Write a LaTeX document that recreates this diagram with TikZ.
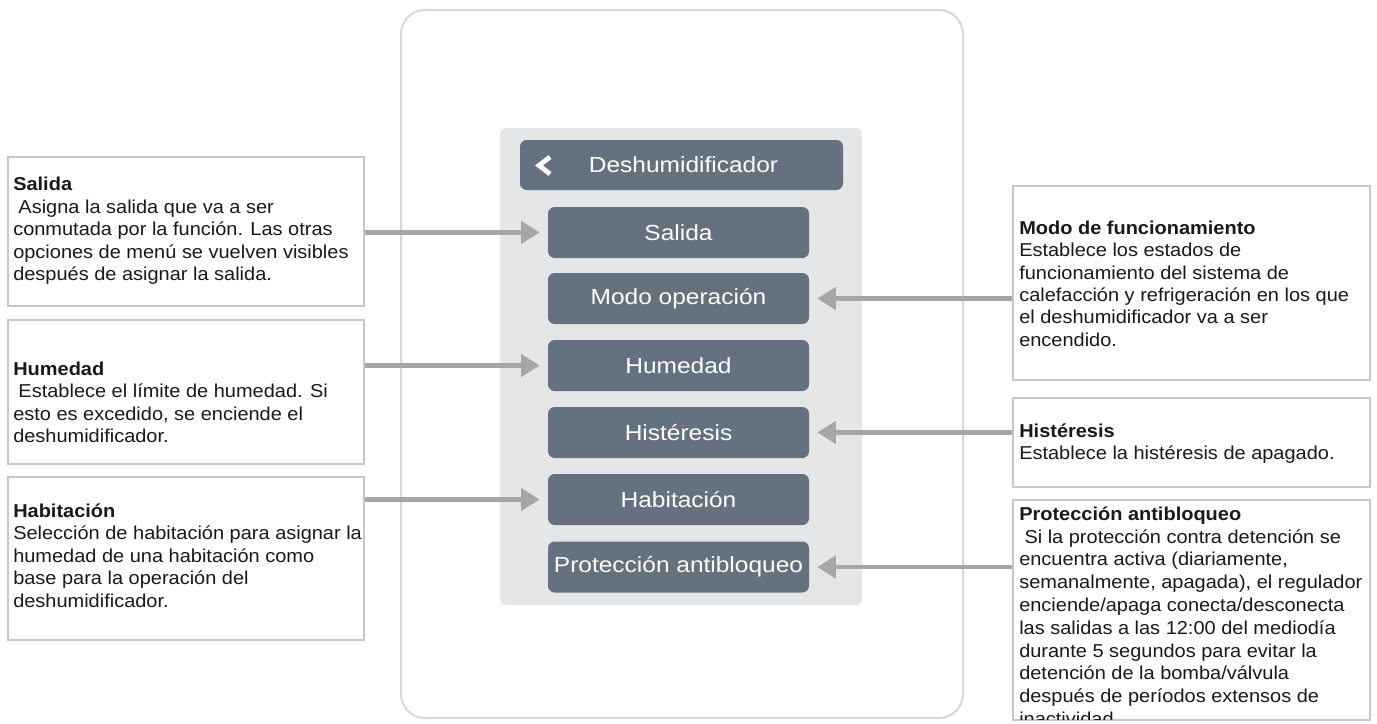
\documentclass[tikz,border=0pt]{standalone}
\usepackage{fontspec}
\setmainfont{Liberation Sans}
\newfontfamily\descfont[FakeStretch=1.07]{Liberation Sans}
\newfontfamily\btnfont[FakeStretch=1.12]{Liberation Sans}
\usetikzlibrary{arrows.meta}
\definecolor{btn}{RGB}{100,114,127}
\definecolor{panel}{RGB}{229,230,232}
\definecolor{arr}{RGB}{166,166,166}
\definecolor{boxline}{RGB}{200,200,200}
\definecolor{frameline}{RGB}{216,216,216}
\definecolor{txt}{RGB}{25,25,25}
\newcommand{\hd}[1]{\rule{0pt}{14pt}\textbf{#1}}
\begin{document}
\begin{tikzpicture}[x=0.75pt,y=-0.75pt,
  descbox/.style={draw=boxline, line width=1.4pt, fill=white, inner sep=0pt, minimum width=267pt},
  desctext/.style={anchor=north west, inner sep=0pt, align=left, text=txt,
    font=\descfont\fontsize{14pt}{16.8pt}\selectfont},
  menubtn/.style={fill=btn, rounded corners=5pt, minimum width=195.75pt, minimum height=38.25pt,
    inner sep=0pt, text=white, font=\btnfont\fontsize{16.4pt}{18pt}\selectfont},
  pointer/.style={draw=arr, line width=3.4pt, -{Triangle[length=14pt,width=16.5pt]}, shorten >=6pt},
]
\useasboundingbox (0,0) rectangle (1377,724);
\fill[white] (0,0) rectangle (1377,724);

% device frame and menu panel
\node[draw=frameline, line width=1.5pt, fill=white, rounded corners=18pt,
  minimum width=421.5pt, minimum height=531pt, inner sep=0pt] (fr) at (682,364) {};
\node[fill=panel, rounded corners=4pt, minimum width=271.5pt, minimum height=357.75pt,
  inner sep=0pt] (pnl) at (681,366.5) {};

% header
\node[menubtn, minimum width=242.25pt, minimum height=37.5pt] (hdr) at (681.5,165) {\hspace*{3pt}Deshumidificador};
\draw[white, line width=3.6pt, line join=miter] (550,157) -- (539,165.5) -- (550,174);

% menu buttons
\node[menubtn] (bsal) at (678.5,232.5) {Salida};
\node[menubtn] (bmod) at (678.5,298.5) {Modo operación};
\node[menubtn] (bhum) at (678.5,365.5) {Humedad};
\node[menubtn] (bhis) at (678.5,432.5) {Histéresis};
\node[menubtn] (bhab) at (678.5,499.5) {Habitación};
\node[menubtn] (bpro) at (678.5,567) {Protección antibloqueo};

% description boxes
\node[descbox, minimum height=111.75pt] (ksal) at (186,231.5) {};
\node[descbox, minimum height=108pt] (khum) at (186,392) {};
\node[descbox, minimum height=122.25pt] (khab) at (186,558.5) {};
\node[descbox, minimum width=267.75pt, minimum height=145.5pt] (kmod) at (1191.5,283) {};
\node[descbox, minimum width=267.75pt, minimum height=66.75pt] (khis) at (1191.5,442.5) {};
\node[descbox, minimum width=267.75pt, minimum height=165pt] (kpro) at (1191.5,610) {};

% texts
\node[desctext] (tsal) at (13,172) {\hd{Salida}\\
\hspace*{0.28em}Asigna la salida que va a ser\\
conmutada por la función. Las otras\\
opciones de menú se vuelven visibles\\
después de asignar la salida.};
\node[desctext] (thum) at (13,356.3) {\hd{Humedad}\\
\hspace*{0.28em}Establece el límite de humedad. Si\\
esto es excedido, se enciende el\\
deshumidificador.};
\node[desctext] (thab) at (13,498.5) {\hd{Habitación}\\
Selección de habitación para asignar la\\
humedad de una habitación como\\
base para la operación del\\
deshumidificador.};
\node[desctext] (tmod) at (1019,215.3) {\hd{Modo de funcionamiento}\\
Establece los estados de\\
funcionamiento del sistema de\\
calefacción y refrigeración en los que\\
el deshumidificador va a ser\\
encendido.};
\node[desctext] (this) at (1019,418.3) {\hd{Histéresis}\\
Establece la histéresis de apagado.};
\begin{scope}
\clip (1014,501) rectangle (1369,719);
\node[desctext, font=\descfont\fontsize{14pt}{17.1pt}\selectfont] (tpro) at (1019,501.3) {\hd{Protección antibloqueo}\\
\hspace*{0.28em}Si la protección contra detención se\\
encuentra activa (diariamente,\\
semanalmente, apagada), el regulador\\
enciende/apaga conecta/desconecta\\
las salidas a las 12:00 del mediodía\\
durante 5 segundos para evitar la\\
detención de la bomba/válvula\\
después de períodos extensos de\\
inactividad.};
\end{scope}

% connectors
\draw[pointer] (ksal.east |- bsal.west) -- (bsal.west);
\draw[pointer] (khum.east |- bhum.west) -- (bhum.west);
\draw[pointer] (khab.east |- bhab.west) -- (bhab.west);
\draw[pointer] (kmod.west |- bmod.east) -- (bmod.east);
\draw[pointer] (khis.west |- bhis.east) -- (bhis.east);
\draw[pointer] (kpro.west |- bpro.east) -- (bpro.east);
\end{tikzpicture}
\end{document}
